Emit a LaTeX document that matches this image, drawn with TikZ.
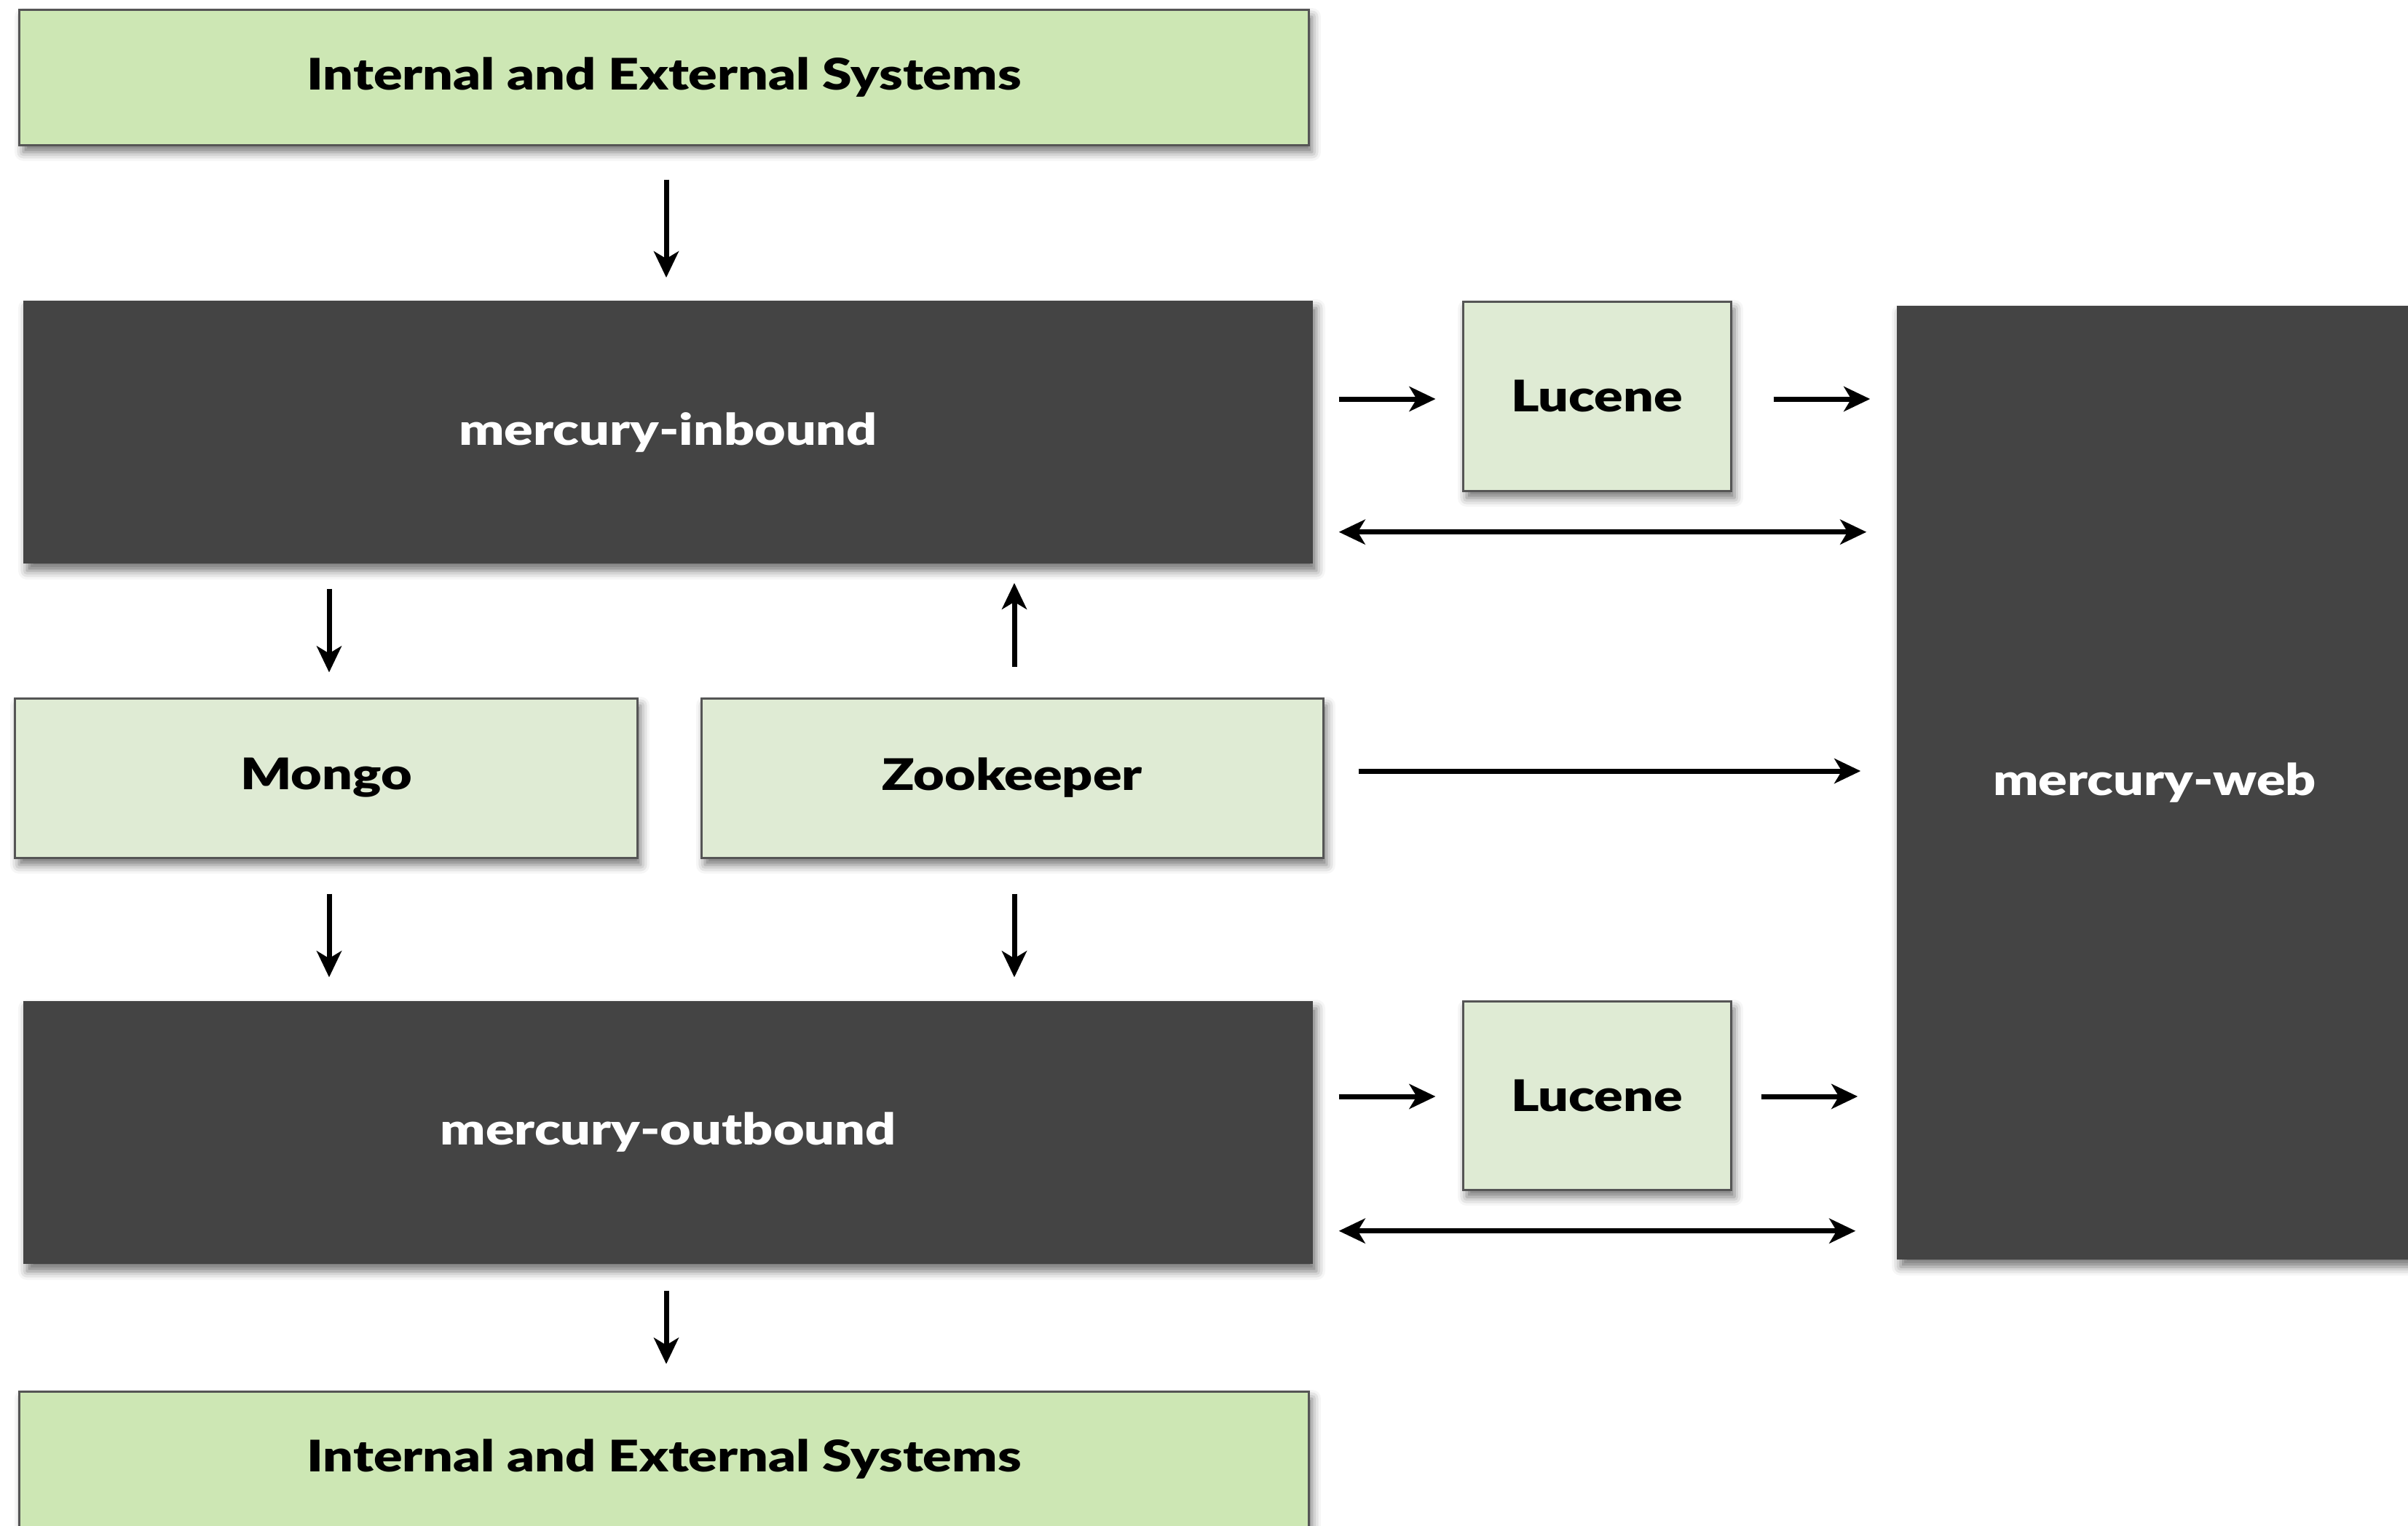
\documentclass[tikz,border=0pt]{standalone}
\usepackage{fontspec}
\setmainfont{Lato}[BoldFont={Lato Black}, BoldFeatures={FakeStretch=1.23}]
\usetikzlibrary{arrows.meta,shadows.blur}

\definecolor{sysgreen}{RGB}{205,231,180}
\definecolor{palegreen}{RGB}{223,235,212}
\definecolor{darkgrey}{RGB}{68,68,68}
\definecolor{edgegrey}{RGB}{85,85,85}

\tikzset{
  boxshadow/.style={blur shadow={shadow xshift=0.05cm, shadow yshift=-0.1cm,
      shadow blur radius=0.12cm, shadow opacity=55}},
  sysbox/.style={rectangle, fill=sysgreen, draw=edgegrey, line width=0.03cm,
      boxshadow, font=\fontsize{17}{20}\selectfont\bfseries},
  storebox/.style={rectangle, fill=palegreen, draw=edgegrey, line width=0.03cm,
      boxshadow, font=\fontsize{17}{20}\selectfont\bfseries},
  appbox/.style={rectangle, fill=darkgrey, text=white, boxshadow,
      font=\fontsize{17}{20}\selectfont\bfseries},
  conn/.style={line width=0.07cm, -{Stealth[length=0.36cm, width=0.34cm, inset=0.1cm]}},
  dblconn/.style={line width=0.07cm, {Stealth[length=0.36cm, width=0.34cm, inset=0.1cm]}-{Stealth[length=0.36cm, width=0.34cm, inset=0.1cm]}}
}

\begin{document}
\begin{tikzpicture}
  \useasboundingbox (0,0) rectangle (33.07,-20.95);
  \clip (0,0) rectangle (33.07,-20.95);

  % Systems on top and bottom
  \node [sysbox, minimum width=17.70cm, minimum height=1.86cm] (sysin) at (9.12,-1.06) {Internal and External Systems};
  \node [sysbox, minimum width=17.70cm, minimum height=1.86cm] (sysout) at (9.12,-20.04) {Internal and External Systems};

  % Mercury services
  \node [appbox, minimum width=17.71cm, minimum height=3.61cm] (inbound) at (9.175,-5.935) {mercury-inbound};
  \node [appbox, minimum width=17.71cm, minimum height=3.61cm] (outbound) at (9.175,-15.555) {mercury-outbound};
  \node [appbox, minimum width=7.08cm, minimum height=13.10cm] (web) at (29.59,-10.75) {mercury-web};

  % Stores
  \node [storebox, minimum width=8.54cm, minimum height=2.19cm] (mongo) at (4.48,-10.685) {Mongo};
  \node [storebox, minimum width=8.54cm, minimum height=2.19cm] (zoo) at (13.90,-10.685) {Zookeeper};
  \node [storebox, minimum width=3.68cm, minimum height=2.60cm] (lucenein) at (21.93,-5.44) {Lucene};
  \node [storebox, minimum width=3.68cm, minimum height=2.59cm] (luceneout) at (21.93,-15.045) {Lucene};

  % Vertical flow
  \draw [conn, shorten <=0.46cm, shorten >=0.31cm] ([xshift=0.03cm]sysin.south) -- ([xshift=0.03cm]sysin.south |- inbound.north);
  \draw [conn, shorten <=0.34cm, shorten >=0.34cm] ([xshift=0.04cm]mongo.north |- inbound.south) -- ([xshift=0.04cm]mongo.north);
  \draw [conn, shorten <=0.42cm, shorten >=0.26cm] ([xshift=0.03cm]zoo.north) -- ([xshift=0.03cm]zoo.north |- inbound.south);
  \draw [conn, shorten <=0.48cm, shorten >=0.32cm] ([xshift=0.04cm]mongo.south) -- ([xshift=0.04cm]mongo.south |- outbound.north);
  \draw [conn, shorten <=0.48cm, shorten >=0.32cm] ([xshift=0.03cm]zoo.south) -- ([xshift=0.03cm]zoo.south |- outbound.north);
  \draw [conn, shorten <=0.36cm, shorten >=0.36cm] ([xshift=-0.025cm]outbound.south) -- ([xshift=-0.025cm]outbound.south |- sysout.north);

  % Inbound side
  \draw [conn, shorten <=0.35cm, shorten >=0.36cm] ([yshift=-0.04cm]lucenein.west -| inbound.east) -- ([yshift=-0.04cm]lucenein.west);
  \draw [conn, shorten <=0.57cm, shorten >=0.36cm] ([yshift=-0.04cm]lucenein.east) -- ([yshift=-0.04cm]lucenein.east -| web.west);
  \draw [dblconn, shorten <=0.35cm, shorten >=0.41cm] ([yshift=0.44cm]inbound.south east) -- ([yshift=0.44cm]inbound.south east -| web.west);

  % Zookeeper to web
  \draw [conn, shorten <=0.47cm, shorten >=0.49cm] ([yshift=0.095cm]zoo.east) -- ([yshift=0.095cm]zoo.east -| web.west);

  % Outbound side
  \draw [conn, shorten <=0.35cm, shorten >=0.36cm] ([yshift=-0.015cm]luceneout.west -| outbound.east) -- ([yshift=-0.015cm]luceneout.west);
  \draw [conn, shorten <=0.40cm, shorten >=0.53cm] ([yshift=-0.015cm]luceneout.east) -- ([yshift=-0.015cm]luceneout.east -| web.west);
  \draw [dblconn, shorten <=0.35cm, shorten >=0.56cm] ([yshift=0.46cm]outbound.south east) -- ([yshift=0.46cm]outbound.south east -| web.west);
\end{tikzpicture}
\end{document}
